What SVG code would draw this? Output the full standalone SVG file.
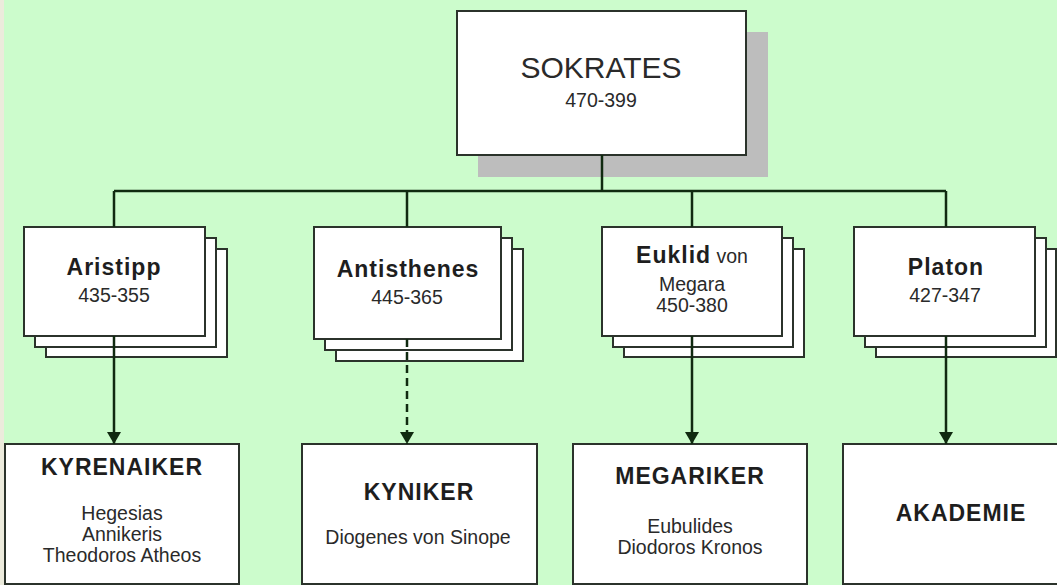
<svg xmlns="http://www.w3.org/2000/svg" width="1057" height="585" viewBox="0 0 1057 585">
<style>
.box{fill:#ffffff;stroke:#2b332b;stroke-width:2}
.shadow{fill:#bdbdbd}
.con{fill:none;stroke:#102a10;stroke-width:2.5}
.dash{stroke-dasharray:8 5}
.t{font-family:"Liberation Sans",Arial,sans-serif;fill:#2a2a2a;text-anchor:middle}
.b{font-weight:bold;font-size:23px;letter-spacing:1px;fill:#1e1e1e}
.r{font-size:19.5px}
.big{font-size:30px}
</style>
<defs>
<marker id="arr" markerUnits="userSpaceOnUse" markerWidth="12" markerHeight="14" viewBox="0 0 12 14" refX="12" refY="7" orient="auto">
<path d="M0,0 L12,7 L0,14 Z" fill="#102a10"/>
</marker>
</defs>
<rect x="0" y="0" width="1057" height="585" fill="#ccfccc"/>
<rect x="0" y="0" width="4" height="585" fill="#ecebdc"/>

<g id="sokrates">
<rect class="shadow" x="478" y="32" width="290" height="145"/>
<rect class="box" x="457" y="11" width="289" height="144"/>
<text class="t big" x="601" y="78">SOKRATES</text>
<text class="t r" x="601" y="107">470-399</text>
</g>

<g id="aristipp">
<rect class="box" x="46" y="249" width="181" height="108"/>
<rect class="box" x="35" y="238" width="181" height="109"/>
<rect class="box" x="24" y="227" width="181" height="109"/>
<text class="t b" x="114" y="275">Aristipp</text>
<text class="t r" x="114" y="302">435-355</text>
</g>

<g id="antisthenes">
<rect class="box" x="336" y="249" width="187" height="112"/>
<rect class="box" x="325" y="238" width="187" height="112"/>
<rect class="box" x="314" y="227" width="187" height="112"/>
<text class="t b" x="408" y="277">Antisthenes</text>
<text class="t r" x="407" y="304">445-365</text>
</g>

<g id="euklid">
<rect class="box" x="624" y="249" width="180" height="108"/>
<rect class="box" x="613" y="238" width="180" height="109"/>
<rect class="box" x="602" y="227" width="180" height="109"/>
<text class="t" x="692" y="263"><tspan class="b">Euklid</tspan><tspan class="r"> von</tspan></text>
<text class="t r" x="692" y="291">Megara</text>
<text class="t r" x="692" y="312">450-380</text>
</g>

<g id="platon">
<rect class="box" x="876" y="249" width="180" height="108"/>
<rect class="box" x="865" y="238" width="181" height="109"/>
<rect class="box" x="854" y="227" width="181" height="109"/>
<text class="t b" x="946" y="275">Platon</text>
<text class="t r" x="945" y="302">427-347</text>
</g>

<g id="kyrenaiker">
<rect class="box" x="5" y="444" width="234" height="140"/>
<text class="t b" x="122" y="475">KYRENAIKER</text>
<text class="t r" x="122" y="520">Hegesias</text>
<text class="t r" x="122" y="541">Annikeris</text>
<text class="t r" x="122" y="562">Theodoros Atheos</text>
</g>

<g id="kyniker">
<rect class="box" x="302" y="444" width="235" height="140"/>
<text class="t b" x="419" y="500">KYNIKER</text>
<text class="t r" x="418" y="544">Diogenes von Sinope</text>
</g>

<g id="megariker">
<rect class="box" x="573" y="444" width="234" height="140"/>
<text class="t b" x="690" y="484">MEGARIKER</text>
<text class="t r" x="690" y="533">Eubulides</text>
<text class="t r" x="690" y="554">Diodoros Kronos</text>
</g>

<g id="akademie">
<rect class="box" x="843" y="444" width="234" height="140"/>
<text class="t b" x="961" y="521">AKADEMIE</text>
</g>

<g id="connectors">
<line class="con" x1="602" y1="155" x2="602" y2="191"/>
<line class="con" x1="114" y1="191" x2="946" y2="191"/>
<line class="con" x1="114" y1="191" x2="114" y2="227"/>
<line class="con" x1="407" y1="191" x2="407" y2="227"/>
<line class="con" x1="692" y1="191" x2="692" y2="227"/>
<line class="con" x1="946" y1="191" x2="946" y2="227"/>
<line class="con" x1="114" y1="336" x2="114" y2="444" marker-end="url(#arr)"/>
<line class="con dash" x1="407" y1="339" x2="407" y2="444" marker-end="url(#arr)"/>
<line class="con" x1="692" y1="336" x2="692" y2="444" marker-end="url(#arr)"/>
<line class="con" x1="946" y1="336" x2="946" y2="444" marker-end="url(#arr)"/>
</g>
</svg>
